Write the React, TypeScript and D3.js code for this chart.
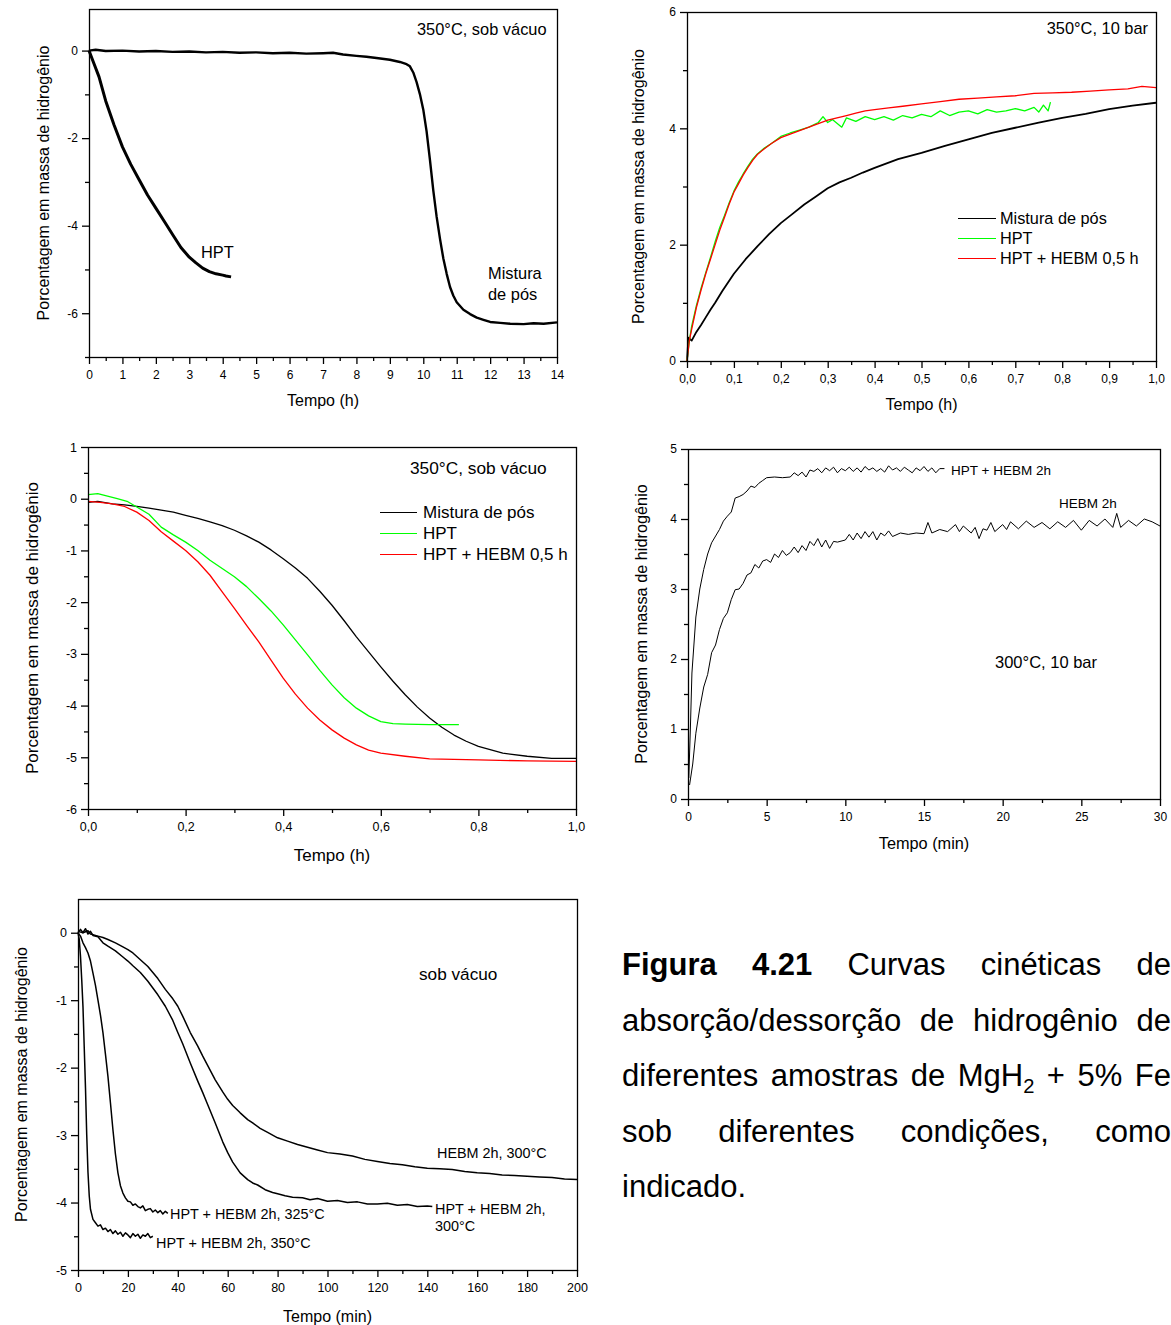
import React, { useEffect, useRef } from 'react';
import * as d3 from 'd3';

type Pt = [number, number];

// ---------- Panel 1: 350°C, sob vácuo (h) ----------
const p1Mistura: Pt[] = [[0,0],[0.2,0.02],[0.5,-0.01],[1,0.0],[1.5,-0.02],[2,-0.01],[2.5,-0.03],[3,-0.02],[3.5,-0.04],[4,-0.03],[4.5,-0.05],[5,-0.04],[5.5,-0.06],[6,-0.05],[6.5,-0.07],[7,-0.06],[7.3,-0.05],[7.6,-0.09],[8,-0.12],[8.3,-0.14],[8.6,-0.17],[9,-0.21],[9.3,-0.26],[9.5,-0.31],[9.6,-0.36],[9.7,-0.5],[9.8,-0.72],[9.9,-1.0],[10.0,-1.35],[10.1,-1.85],[10.2,-2.5],[10.3,-3.2],[10.4,-3.8],[10.5,-4.3],[10.6,-4.75],[10.7,-5.1],[10.8,-5.4],[10.9,-5.6],[11,-5.75],[11.2,-5.92],[11.4,-6.02],[11.6,-6.1],[11.8,-6.15],[12,-6.2],[12.3,-6.22],[12.6,-6.24],[13,-6.25],[13.3,-6.23],[13.6,-6.24],[14,-6.21]];
const p1HPT: Pt[] = [[0,0],[0.05,-0.1],[0.15,-0.3],[0.3,-0.6],[0.5,-1.15],[0.75,-1.7],[1,-2.2],[1.25,-2.6],[1.5,-2.95],[1.75,-3.3],[2,-3.6],[2.25,-3.9],[2.5,-4.2],[2.75,-4.5],[3,-4.72],[3.2,-4.85],[3.4,-4.97],[3.6,-5.05],[3.8,-5.1],[4,-5.13],[4.1,-5.15],[4.25,-5.17]];
const p1XTicks = [0,1,2,3,4,5,6,7,8,9,10,11,12,13,14];
const p1YTicks = [0,-2,-4,-6];

// ---------- Panel 2: 350°C, 10 bar (h) ----------
const p2Mistura: Pt[] = [[0,0],[0.003,0.4],[0.01,0.35],[0.02,0.5],[0.03,0.62],[0.04,0.75],[0.05,0.88],[0.06,1.0],[0.075,1.2],[0.1,1.5],[0.125,1.75],[0.15,1.97],[0.175,2.18],[0.2,2.37],[0.225,2.53],[0.25,2.69],[0.275,2.83],[0.3,2.97],[0.325,3.07],[0.35,3.15],[0.375,3.24],[0.4,3.32],[0.45,3.47],[0.5,3.58],[0.55,3.7],[0.6,3.81],[0.65,3.92],[0.7,4.01],[0.75,4.1],[0.8,4.18],[0.85,4.25],[0.9,4.33],[0.95,4.39],[1.0,4.44]];
const p2HPT: Pt[] = [[0,0],[0.005,0.35],[0.01,0.6],[0.02,0.95],[0.03,1.25],[0.04,1.52],[0.05,1.78],[0.06,2.05],[0.07,2.3],[0.08,2.5],[0.09,2.72],[0.1,2.92],[0.11,3.08],[0.12,3.22],[0.13,3.35],[0.14,3.47],[0.15,3.56],[0.165,3.66],[0.18,3.74],[0.2,3.86],[0.22,3.92],[0.24,3.97],[0.26,4.02],[0.28,4.1],[0.29,4.2],[0.3,4.1],[0.31,4.15],[0.33,4.02],[0.34,4.18],[0.36,4.12],[0.38,4.2],[0.4,4.15],[0.42,4.2],[0.44,4.14],[0.46,4.22],[0.48,4.18],[0.5,4.24],[0.52,4.2],[0.54,4.3],[0.56,4.22],[0.58,4.28],[0.6,4.3],[0.62,4.25],[0.64,4.32],[0.66,4.28],[0.68,4.3],[0.7,4.34],[0.72,4.3],[0.74,4.36],[0.75,4.28],[0.76,4.4],[0.77,4.3],[0.775,4.45]];
const p2Hebm: Pt[] = [[0,0],[0.005,0.35],[0.01,0.55],[0.02,0.92],[0.03,1.22],[0.04,1.5],[0.05,1.75],[0.06,2.0],[0.07,2.25],[0.08,2.47],[0.09,2.7],[0.1,2.9],[0.11,3.05],[0.12,3.2],[0.13,3.33],[0.14,3.45],[0.15,3.55],[0.165,3.65],[0.18,3.74],[0.2,3.84],[0.22,3.9],[0.24,3.96],[0.26,4.02],[0.28,4.08],[0.3,4.14],[0.32,4.18],[0.34,4.22],[0.36,4.26],[0.38,4.3],[0.4,4.32],[0.43,4.35],[0.46,4.38],[0.5,4.42],[0.54,4.46],[0.58,4.5],[0.62,4.52],[0.66,4.54],[0.7,4.56],[0.74,4.6],[0.78,4.61],[0.82,4.62],[0.86,4.64],[0.9,4.66],[0.94,4.68],[0.97,4.72],[1.0,4.7]];
const p2XTicks = [0,0.1,0.2,0.3,0.4,0.5,0.6,0.7,0.8,0.9,1.0];
const p2YTicks = [0,2,4,6];

// ---------- Panel 3: 350°C, sob vácuo (h) ----------
const p3Mistura: Pt[] = [[0,-0.07],[0.02,-0.05],[0.05,-0.1],[0.075,-0.12],[0.1,-0.15],[0.125,-0.18],[0.15,-0.22],[0.175,-0.26],[0.2,-0.32],[0.225,-0.38],[0.25,-0.45],[0.275,-0.52],[0.3,-0.61],[0.325,-0.72],[0.35,-0.84],[0.375,-0.99],[0.4,-1.16],[0.425,-1.34],[0.45,-1.54],[0.475,-1.79],[0.5,-2.06],[0.525,-2.36],[0.55,-2.67],[0.575,-2.96],[0.6,-3.25],[0.625,-3.53],[0.65,-3.79],[0.675,-4.03],[0.7,-4.24],[0.725,-4.42],[0.75,-4.57],[0.775,-4.69],[0.8,-4.79],[0.85,-4.92],[0.9,-4.98],[0.95,-5.02],[1.0,-5.02]];
const p3HPT: Pt[] = [[0,0.08],[0.02,0.1],[0.04,0.05],[0.06,0.0],[0.08,-0.05],[0.1,-0.16],[0.125,-0.3],[0.15,-0.55],[0.175,-0.7],[0.2,-0.84],[0.225,-1.0],[0.25,-1.19],[0.275,-1.35],[0.3,-1.51],[0.325,-1.7],[0.35,-1.93],[0.375,-2.17],[0.4,-2.44],[0.425,-2.73],[0.45,-3.02],[0.475,-3.32],[0.5,-3.6],[0.525,-3.85],[0.55,-4.05],[0.575,-4.2],[0.6,-4.31],[0.625,-4.35],[0.65,-4.36],[0.7,-4.37],[0.76,-4.37]];
const p3Hebm: Pt[] = [[0,-0.05],[0.025,-0.07],[0.05,-0.1],[0.075,-0.15],[0.1,-0.26],[0.125,-0.42],[0.15,-0.64],[0.175,-0.82],[0.2,-1.0],[0.225,-1.22],[0.25,-1.48],[0.275,-1.8],[0.3,-2.12],[0.325,-2.45],[0.35,-2.77],[0.375,-3.12],[0.4,-3.47],[0.425,-3.78],[0.45,-4.05],[0.475,-4.28],[0.5,-4.47],[0.525,-4.63],[0.55,-4.76],[0.575,-4.86],[0.6,-4.92],[0.65,-4.98],[0.7,-5.03],[0.8,-5.05],[0.9,-5.07],[1.0,-5.08]];
const p3XTicks = [0,0.2,0.4,0.6,0.8,1.0];
const p3YTicks = [1,0,-1,-2,-3,-4,-5,-6];

// ---------- Panel 4: 300°C, 10 bar (min) ----------
const p4HptHebm: Pt[] = [[0.05,0.3],[0.15,1.0],[0.25,1.8],[0.5,2.6],[0.75,3.0],[1,3.28],[1.25,3.5],[1.5,3.66],[2,3.85],[2.25,3.97],[2.5,4.04],[2.75,4.1],[3,4.3],[3.25,4.32],[3.5,4.35],[3.75,4.4],[4,4.47],[4.25,4.45],[4.5,4.51],[4.75,4.55],[5,4.59],[5.5,4.6],[6,4.59],[6.5,4.6],[6.75,4.66],[7,4.62],[7.25,4.67],[7.5,4.6],[7.75,4.7],[8,4.68],[8.25,4.72],[8.5,4.66],[8.75,4.73],[9,4.69],[9.25,4.74],[9.5,4.66],[9.75,4.72],[10,4.69],[10.25,4.74],[10.5,4.68],[10.75,4.73],[11,4.67],[11.25,4.75],[11.5,4.7],[11.75,4.73],[12,4.68],[12.25,4.72],[12.5,4.67],[12.75,4.76],[13,4.7],[13.25,4.73],[13.5,4.68],[13.75,4.74],[14,4.7],[14.25,4.66],[14.5,4.73],[14.75,4.69],[15,4.75],[15.25,4.68],[15.5,4.73],[15.75,4.66],[16,4.72],[16.3,4.72]];
const p4Hebm: Pt[] = [[0.1,0.2],[0.3,0.5],[0.5,0.94],[0.75,1.3],[1,1.6],[1.25,1.78],[1.5,2.09],[1.75,2.2],[2,2.42],[2.25,2.58],[2.5,2.66],[2.75,2.85],[3,2.99],[3.25,3.0],[3.5,3.08],[3.75,3.2],[4,3.23],[4.25,3.35],[4.5,3.3],[4.75,3.4],[5,3.42],[5.25,3.38],[5.5,3.5],[5.75,3.45],[6,3.55],[6.25,3.48],[6.5,3.52],[6.75,3.6],[7,3.52],[7.25,3.62],[7.5,3.55],[7.75,3.68],[8,3.62],[8.25,3.72],[8.5,3.6],[8.75,3.7],[9,3.58],[9.25,3.68],[9.5,3.67],[10,3.7],[10.25,3.78],[10.5,3.7],[10.75,3.8],[11,3.72],[11.25,3.82],[11.5,3.74],[11.75,3.82],[12,3.7],[12.25,3.8],[12.5,3.76],[12.75,3.83],[13,3.75],[13.5,3.8],[14,3.78],[14.5,3.8],[15,3.79],[15.25,3.95],[15.5,3.8],[16,3.85],[16.5,3.82],[17,3.92],[17.25,3.82],[17.5,3.9],[18,3.8],[18.25,3.88],[18.5,3.72],[18.75,3.86],[19,3.84],[19.25,3.95],[19.5,3.82],[20,3.92],[20.25,3.85],[20.5,3.96],[21,3.86],[21.5,3.97],[22,3.88],[22.5,3.95],[23,3.86],[23.5,3.96],[24,3.88],[24.5,3.98],[25,3.84],[25.5,3.98],[26,3.9],[26.5,4.0],[27,3.88],[27.25,4.08],[27.5,3.88],[28,3.98],[28.5,3.9],[29,4.0],[29.5,3.96],[30,3.9]];
const p4XTicks = [0,5,10,15,20,25,30];
const p4YTicks = [0,1,2,3,4,5];

// ---------- Panel 5: sob vácuo (min) ----------
const p5Hpt350: Pt[] = [[0,0],[0.5,-0.1],[1,-0.35],[1.5,-0.7],[2,-1.1],[2.5,-1.7],[3,-2.3],[3.5,-3.0],[4,-3.55],[4.5,-3.9],[5,-4.1],[6,-4.25],[7,-4.3],[8,-4.35],[9,-4.33],[10,-4.4],[11,-4.38],[12,-4.43],[13,-4.4],[14,-4.46],[15,-4.42],[16,-4.47],[17,-4.44],[18,-4.5],[19,-4.45],[20,-4.48],[21,-4.52],[22,-4.46],[23,-4.5],[24,-4.47],[25,-4.53],[26,-4.48],[27,-4.5],[28,-4.46],[29,-4.52],[30,-4.5]];
const p5Hpt325: Pt[] = [[0,0],[1,-0.05],[2,-0.15],[3,-0.22],[4,-0.3],[5,-0.42],[6,-0.6],[7,-0.78],[8,-1.0],[9,-1.22],[10,-1.48],[11,-1.8],[12,-2.13],[13,-2.52],[14,-2.92],[15,-3.28],[16,-3.56],[17,-3.75],[18,-3.86],[19,-3.93],[20,-3.98],[21,-3.99],[22,-4.04],[23,-4.02],[24,-4.06],[25,-4.08],[26,-4.05],[27,-4.12],[28,-4.1],[29,-4.09],[30,-4.14],[31,-4.11],[32,-4.15],[33,-4.12],[34,-4.17],[35,-4.13],[36,-4.16]];
const p5Hpt300: Pt[] = [[0,0.0],[1,0.05],[2,0.0],[3,0.06],[4,-0.02],[5,0.02],[6,-0.04],[8,-0.06],[10,-0.15],[12,-0.2],[15,-0.27],[18,-0.36],[20,-0.42],[22,-0.49],[25,-0.59],[28,-0.72],[30,-0.82],[32,-0.92],[35,-1.09],[38,-1.3],[40,-1.48],[42,-1.65],[45,-1.93],[48,-2.2],[50,-2.37],[52,-2.55],[55,-2.82],[58,-3.1],[60,-3.26],[62,-3.4],[65,-3.56],[68,-3.66],[70,-3.71],[72,-3.74],[75,-3.81],[78,-3.85],[80,-3.87],[83,-3.9],[86,-3.92],[90,-3.93],[93,-3.96],[96,-3.94],[100,-3.98],[104,-3.97],[108,-4.0],[112,-3.99],[116,-4.02],[120,-4.02],[124,-4.01],[128,-4.04],[132,-4.03],[136,-4.06],[140,-4.05],[142,-4.06]];
const p5Hebm300: Pt[] = [[0,0.02],[2,0.0],[4,0.03],[5,-0.02],[8,-0.05],[10,-0.07],[12,-0.1],[15,-0.15],[18,-0.21],[20,-0.25],[22,-0.3],[25,-0.4],[28,-0.5],[30,-0.59],[32,-0.68],[35,-0.84],[38,-0.98],[40,-1.09],[42,-1.24],[45,-1.48],[48,-1.68],[50,-1.83],[52,-1.97],[55,-2.18],[58,-2.36],[60,-2.47],[62,-2.56],[65,-2.67],[68,-2.77],[70,-2.82],[73,-2.9],[76,-2.96],[80,-3.04],[84,-3.09],[88,-3.14],[92,-3.18],[96,-3.22],[100,-3.26],[105,-3.28],[110,-3.31],[115,-3.36],[120,-3.39],[125,-3.42],[130,-3.44],[135,-3.47],[140,-3.49],[145,-3.5],[150,-3.51],[155,-3.54],[160,-3.56],[165,-3.57],[170,-3.59],[175,-3.6],[180,-3.61],[185,-3.62],[190,-3.63],[195,-3.65],[200,-3.66]];
const p5XTicks = [0,20,40,60,80,100,120,140,160,180,200];
const p5YTicks = [0,-1,-2,-3,-4,-5];

const legendNames = ['Mistura de pós', 'HPT', 'HPT + HEBM 0,5 h'];
const yTitle = 'Porcentagem em massa de hidrogênio';

const captionLines: { words: string[]; justify: boolean }[] = [
  { words: ['Figura', '4.21', 'Curvas', 'cinéticas', 'de'], justify: true },
  { words: ['absorção/dessorção', 'de', 'hidrogênio', 'de'], justify: true },
  { words: ['diferentes', 'amostras', 'de', 'MgH_2', '+', '5%', 'Fe'], justify: true },
  { words: ['sob', 'diferentes', 'condições,', 'como'], justify: true },
  { words: ['indicado.'], justify: false },
];

const FONT = '"Liberation Sans", Arial, Helvetica, sans-serif';
const W = 1171, H = 1325;
const BLACK = '#000000', GREEN = '#00ff00', RED = '#ff0000';

const intFmt = (v: number) => String(v);
const commaFmt = (v: number) => d3.format('.1f')(v).replace('.', ',');

interface Series { data: Pt[]; color: string; width: number }
interface Label { text: string; x: number; y: number; size: number; anchor?: string }
interface Panel {
  left: number; right: number; top: number; bottom: number;
  xDomain: [number, number]; yDomain: [number, number];
  xMajor: number[]; xMinor: number[]; yMajor: number[]; yMinor: number[];
  xFmt: (v: number) => string; yFmt: (v: number) => string;
  xTitle: string; xTitleY: number; yTitleX: number; titleSize: number; tickSize: number;
  series: Series[]; labels: Label[];
  legend?: { x0: number; x1: number; tx: number; ys: number[]; colors: string[]; size: number };
}

const panels: Panel[] = [
  {
    left: 89, right: 557, top: 9, bottom: 357,
    xDomain: [0, 14], yDomain: [-7, 0.95],
    xMajor: p1XTicks, xMinor: d3.range(0.5, 14, 1), yMajor: p1YTicks, yMinor: [-1, -3, -5, -7],
    xFmt: intFmt, yFmt: intFmt, xTitle: 'Tempo (h)', xTitleY: 400, yTitleX: 43, titleSize: 16, tickSize: 12,
    series: [
      { data: p1Mistura, color: BLACK, width: 2.4 },
      { data: p1HPT, color: BLACK, width: 3 },
    ],
    labels: [
      { text: '350°C, sob vácuo', x: 417, y: 29, size: 16.4 },
      { text: 'HPT', x: 201, y: 252, size: 16.4 },
      { text: 'Mistura', x: 488, y: 273, size: 16.4 },
      { text: 'de pós', x: 488, y: 294, size: 16.4 },
    ],
  },
  {
    left: 687, right: 1156, top: 12, bottom: 361,
    xDomain: [0, 1], yDomain: [0, 6],
    xMajor: p2XTicks, xMinor: d3.range(0.05, 1, 0.1), yMajor: p2YTicks, yMinor: [1, 3, 5],
    xFmt: commaFmt, yFmt: intFmt, xTitle: 'Tempo (h)', xTitleY: 404, yTitleX: 638, titleSize: 16, tickSize: 12,
    series: [
      { data: p2Mistura, color: BLACK, width: 1.8 },
      { data: p2HPT, color: GREEN, width: 1.3 },
      { data: p2Hebm, color: RED, width: 1.3 },
    ],
    labels: [{ text: '350°C, 10 bar', x: 1148, y: 28, size: 16.4, anchor: 'end' }],
    legend: { x0: 958, x1: 996, tx: 1000, ys: [218, 238, 258], colors: [BLACK, GREEN, RED], size: 16.3 },
  },
  {
    left: 88, right: 576, top: 447, bottom: 809,
    xDomain: [0, 1], yDomain: [-6, 1],
    xMajor: p3XTicks, xMinor: d3.range(0.1, 1, 0.2), yMajor: p3YTicks, yMinor: d3.range(-5.5, 1, 1),
    xFmt: commaFmt, yFmt: intFmt, xTitle: 'Tempo (h)', xTitleY: 855, yTitleX: 32, titleSize: 17, tickSize: 12.5,
    series: [
      { data: p3Mistura, color: BLACK, width: 1.3 },
      { data: p3HPT, color: GREEN, width: 1.3 },
      { data: p3Hebm, color: RED, width: 1.3 },
    ],
    labels: [{ text: '350°C, sob vácuo', x: 410, y: 468, size: 17.3 }],
    legend: { x0: 380, x1: 417, tx: 423, ys: [512, 533, 554], colors: [BLACK, GREEN, RED], size: 17 },
  },
  {
    left: 688, right: 1160, top: 449, bottom: 799,
    xDomain: [0, 30], yDomain: [0, 5],
    xMajor: p4XTicks, xMinor: d3.range(2.5, 30, 5), yMajor: p4YTicks, yMinor: d3.range(0.5, 5, 1),
    xFmt: intFmt, yFmt: intFmt, xTitle: 'Tempo (min)', xTitleY: 843, yTitleX: 641, titleSize: 16.3, tickSize: 12,
    series: [
      { data: p4HptHebm, color: BLACK, width: 1 },
      { data: p4Hebm, color: BLACK, width: 1 },
    ],
    labels: [
      { text: 'HPT + HEBM 2h', x: 951, y: 470, size: 13.5 },
      { text: 'HEBM 2h', x: 1059, y: 503, size: 13.5 },
      { text: '300°C, 10 bar', x: 995, y: 662, size: 16.5 },
    ],
  },
  {
    left: 78, right: 577, top: 899, bottom: 1270,
    xDomain: [0, 200], yDomain: [-5, 0.5],
    xMajor: p5XTicks, xMinor: d3.range(10, 200, 20), yMajor: p5YTicks, yMinor: d3.range(-4.5, 0.5, 1),
    xFmt: intFmt, yFmt: intFmt, xTitle: 'Tempo (min)', xTitleY: 1316, yTitleX: 21, titleSize: 16, tickSize: 12.5,
    series: [
      { data: p5Hpt350, color: BLACK, width: 1.5 },
      { data: p5Hpt325, color: BLACK, width: 1.5 },
      { data: p5Hpt300, color: BLACK, width: 1.5 },
      { data: p5Hebm300, color: BLACK, width: 1.5 },
    ],
    labels: [
      { text: 'sob vácuo', x: 419, y: 974, size: 17.2 },
      { text: 'HEBM 2h, 300°C', x: 437, y: 1153, size: 14.4 },
      { text: 'HPT + HEBM 2h,', x: 435, y: 1209, size: 14.4 },
      { text: '300°C', x: 435, y: 1226, size: 14.4 },
      { text: 'HPT + HEBM 2h, 325°C', x: 170, y: 1214, size: 14.4 },
      { text: 'HPT + HEBM 2h, 350°C', x: 156, y: 1243, size: 14.4 },
    ],
  },
];

function styleAxis(size: number) {
  return (sel: any) => {
    sel.select('.domain').remove();
    sel.attr('font-family', FONT).attr('font-size', size);
    sel.selectAll('line').attr('stroke', '#000').attr('stroke-width', 1.3);
    sel.selectAll('text').attr('fill', '#000');
  };
}

function drawPanel(svg: any, p: Panel) {
  const x = d3.scaleLinear().domain(p.xDomain).range([p.left, p.right]);
  const y = d3.scaleLinear().domain(p.yDomain).range([p.bottom, p.top]);
  const g = svg.append('g').attr('font-family', FONT);
  const line = d3.line<Pt>().x((d) => x(d[0])).y((d) => y(d[1]));
  for (const s of p.series) {
    g.append('path').datum(s.data).attr('d', line).attr('fill', 'none')
      .attr('stroke', s.color).attr('stroke-width', s.width).attr('stroke-linejoin', 'round');
  }
  g.append('rect').attr('x', p.left + 0.5).attr('y', p.top + 0.5)
    .attr('width', p.right - p.left).attr('height', p.bottom - p.top)
    .attr('fill', 'none').attr('stroke', '#000').attr('stroke-width', 1.3);

  const st = styleAxis(p.tickSize);
  g.append('g').attr('transform', `translate(0,${p.bottom})`)
    .call(d3.axisBottom(x).tickValues(p.xMinor).tickSize(4).tickFormat(() => '')).call(st);
  g.append('g').attr('transform', `translate(0,${p.bottom})`)
    .call(d3.axisBottom(x).tickValues(p.xMajor).tickSize(7).tickPadding(6).tickFormat(p.xFmt as any)).call(st);
  g.append('g').attr('transform', `translate(${p.left},0)`)
    .call(d3.axisLeft(y).tickValues(p.yMinor).tickSize(4).tickFormat(() => '')).call(st);
  g.append('g').attr('transform', `translate(${p.left},0)`)
    .call(d3.axisLeft(y).tickValues(p.yMajor).tickSize(7).tickPadding(4).tickFormat(p.yFmt as any)).call(st);

  g.append('text').attr('x', (p.left + p.right) / 2).attr('y', p.xTitleY)
    .attr('text-anchor', 'middle').attr('dominant-baseline', 'central')
    .attr('font-size', p.titleSize).attr('fill', '#000').text(p.xTitle);
  g.append('text').attr('transform', `translate(${p.yTitleX},${(p.top + p.bottom) / 2}) rotate(-90)`)
    .attr('text-anchor', 'middle').attr('dominant-baseline', 'central')
    .attr('font-size', p.titleSize).attr('fill', '#000').text(yTitle);

  for (const l of p.labels) {
    g.append('text').attr('x', l.x).attr('y', l.y).attr('dominant-baseline', 'central')
      .attr('text-anchor', l.anchor || 'start').attr('font-size', l.size).attr('fill', '#000').text(l.text);
  }
  if (p.legend) {
    const L = p.legend;
    legendNames.forEach((name, i) => {
      g.append('line').attr('x1', L.x0).attr('x2', L.x1).attr('y1', L.ys[i] + 0.5).attr('y2', L.ys[i] + 0.5)
        .attr('stroke', L.colors[i]).attr('stroke-width', 1);
      g.append('text').attr('x', L.tx).attr('y', L.ys[i]).attr('dominant-baseline', 'central')
        .attr('font-size', L.size).attr('fill', '#000').text(name);
    });
  }
}

function drawCaption(svg: any) {
  const left = 622, right = 1171, base0 = 975, lh = 55.5, fs = 31;
  const g = svg.append('g').attr('font-family', FONT).attr('font-size', fs).attr('fill', '#000');
  captionLines.forEach((ln, li) => {
    const yb = base0 + li * lh;
    const nodes: any[] = [];
    ln.words.forEach((w, wi) => {
      const t = g.append('text').attr('y', yb);
      if (li === 0 && wi < 2) t.attr('font-weight', 'bold');
      if (w.includes('_')) {
        const [a, b] = w.split('_');
        t.append('tspan').text(a);
        t.append('tspan').attr('font-size', fs * 0.65).attr('dy', 7).text(b);
      } else {
        t.text(w);
      }
      nodes.push(t);
    });
    const widths = nodes.map((n) => (n.node() as SVGTextElement).getComputedTextLength());
    const total = widths.reduce((a, b) => a + b, 0);
    const gap = ln.justify && nodes.length > 1 ? (right - left - total) / (nodes.length - 1) : fs * 0.28;
    let xx = left;
    nodes.forEach((n, i) => {
      n.attr('x', xx);
      xx += widths[i] + gap;
    });
  });
}

export default function App() {
  const ref = useRef<SVGSVGElement>(null);
  useEffect(() => {
    const svg = d3.select(ref.current);
    svg.selectAll('*').remove();
    panels.forEach((p) => drawPanel(svg, p));
    drawCaption(svg);
  }, []);
  return (
    <svg ref={ref} width={W} height={H} viewBox={`0 0 ${W} ${H}`}
      style={{ position: 'absolute', left: 0, top: 0, background: '#fff' }} />
  );
}
